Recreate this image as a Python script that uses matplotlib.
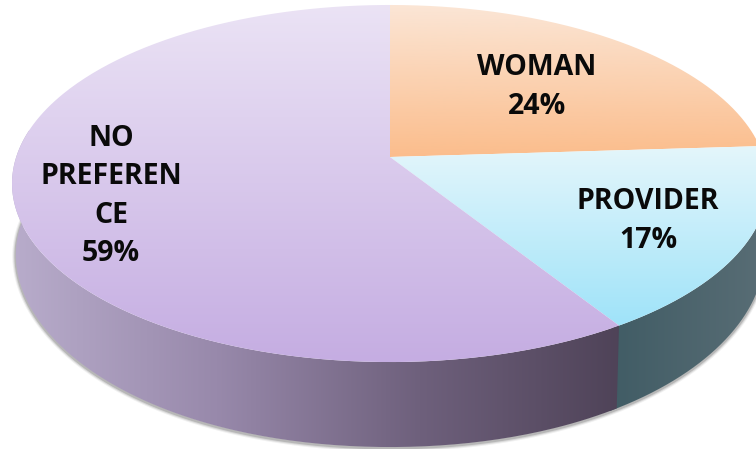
import numpy as np
import matplotlib
matplotlib.use("Agg")
import matplotlib.pyplot as plt
from matplotlib.colors import LinearSegmentedColormap as LSC
from matplotlib.patches import PathPatch
from matplotlib.path import Path

### DATA ###
labels = ["WOMAN", "PROVIDER", "NO\nPREFEREN\nCE"]
values = [24, 17, 59]
top_colors = [["#FBE6D6", "#FBBD8C"], ["#E4F6FB", "#9FE3F9"], ["#EBE3F5", "#C5ADE2"]]
side_colors = [["#5A6E76", "#5A6E76"], ["#5A6E76", "#3F5B64"],
               ["#4E4257", "#6E607C", "#9889AB", "#B8ACCB"]]
label_xy = [(537, 87), (648, 221), (111, 196)]
############

# pie geometry in pixels, the disc is drawn with a perspective squeeze
CX, CY = 390, 157
A, B, K = 373.8, 174.6, 0.1485


def project(theta, r=1.0):
    x = r * np.cos(theta)
    y = r * np.sin(theta)
    d = 1 + K * y
    return CX + A * x / d, CY - B * y / d


def project_low(theta):
    # lower rim of the side wall, a bit smaller than the top disc
    x, y = project(theta)
    return CX + (x - CX) * 0.99, y + 85 - 14 * np.abs(np.cos(theta)) ** 3


def gradient(ax, verts, colors, extent, horizontal=False, zorder=2):
    cmap = LSC.from_list("g", colors)
    g = np.linspace(0, 1, 256)
    g = g.reshape(1, -1) if horizontal else g.reshape(-1, 1)
    im = ax.imshow(g, cmap=cmap, extent=extent, aspect="auto", zorder=zorder,
                   vmin=0, vmax=1, interpolation="bilinear")
    patch = PathPatch(Path(verts), transform=ax.transData, fc="none", ec="none")
    im.set_clip_path(patch)


fig = plt.figure(figsize=(7.56, 4.49), dpi=100)
ax = fig.add_axes([0, 0, 1, 1])

frac = np.cumsum([0] + values) / sum(values)
angles = np.pi / 2 - 2 * np.pi * frac
side_bounds = [(774, 600), (774, 600), (625, 12)]

# side walls, only the front half of the rim can be seen
for i in range(len(values)):
    t0, t1 = angles[i], angles[i + 1]
    lo = max(t1, -np.pi)
    hi = min(t0, 0.0) if i > 0 else 0.0
    if i == 1:
        lo -= 0.02  # run under the next wall so no seam shows
    if i == 2:
        # third slice runs round to the left, stop at the far left of the disc
        lo = -np.pi - 0.16
    if lo >= hi:
        continue
    th = np.linspace(hi, lo, 200)
    xt, yt = project(th)
    xb, yb = project_low(th)
    verts = np.r_[np.c_[xt, yt], np.c_[xb, yb][::-1], [[xt[0], yt[0]]]]
    x0, x1 = side_bounds[i]
    gradient(ax, verts, side_colors[i], [x0, x1, 449, 0], horizontal=True, zorder=2)

# soft shadow under the rim
th = np.linspace(0.08, -np.pi - 0.16, 400)
xb, yb = project_low(th)
for w, alpha in zip([5, 3.5, 2], [0.07, 0.12, 0.2]):
    ax.plot(xb, yb + 1, color="#333333", lw=w, alpha=alpha, zorder=1,
            solid_capstyle="round")

# top of the pie
for i in range(len(values)):
    th = np.linspace(angles[i], angles[i + 1], 300)
    xs, ys = project(th)
    verts = np.r_[[[CX, CY]], np.c_[xs, ys], [[CX, CY]]]
    y0, y1 = ys.min(), max(ys.max(), CY)
    gradient(ax, verts, top_colors[i], [0, 800, y1, y0], zorder=3)
    pct = "%d%%" % values[i]
    ax.text(label_xy[i][0], label_xy[i][1], labels[i] + "\n" + pct, ha="center", va="center",
            fontsize=20.5, fontweight="bold", family="Open Sans", color="#0a0a0a",
            linespacing=1.42, zorder=5)

ax.set_xlim(0, 756)
ax.set_ylim(449, 0)
ax.axis("off")
fig.savefig("out.png", dpi=100)
